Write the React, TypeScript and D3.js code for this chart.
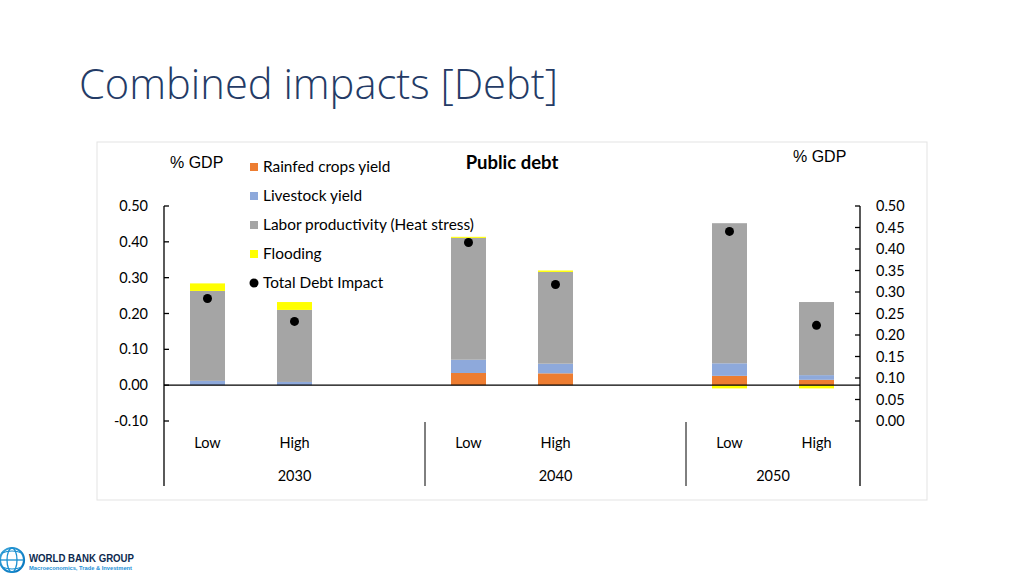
import React from "react";
import * as d3 from "d3";

const years = ["2030", "2040", "2050"];
const scenarios = ["Low", "High"];
const categories = ["2030 Low", "2030 High", "2040 Low", "2040 High", "2050 Low", "2050 High"];
const rainfed = [0, 0, 0.034, 0.033, 0.026, 0.015];
const livestock = [0.012, 0.009, 0.037, 0.027, 0.035, 0.013];
const labor = [0.251, 0.201, 0.34, 0.256, 0.391, 0.204];
const flooding = [0.021, 0.022, 0.003, 0.004, -0.009, -0.009];
const totalImpact = [0.242, 0.178, 0.398, 0.281, 0.429, 0.167];
const seriesNames = ["Rainfed crops yield", "Livestock yield", "Labor productivity (Heat stress)", "Flooding"];
const seriesColors = ["#ED7D31", "#8EA9DB", "#A5A5A5", "#FFFF00"];
const leftTicks = [0.5, 0.4, 0.3, 0.2, 0.1, 0, -0.1];
const rightTicks = [0.5, 0.45, 0.4, 0.35, 0.3, 0.25, 0.2, 0.15, 0.1, 0.05, 0];

const FONT = "Lato, 'Open Sans', sans-serif";

export default function App() {
  const W = 1024, H = 576;
  const plotL = 164, plotR = 860, plotT = 206, plotB = 421;
  const slots: string[] = [];
  years.forEach((y, yi) => {
    scenarios.forEach((s) => slots.push(`${y} ${s}`));
    if (yi < years.length - 1) slots.push(`${y} gap`);
  });
  const x = d3.scaleBand<string>().domain(slots).range([plotL, plotR]).padding(0);
  const y = d3.scaleLinear().domain([-0.1, 0.5]).range([plotB, plotT]);
  const yR = d3.scaleLinear().domain([0, 0.5]).range([plotB, plotT]);
  const barW = 35;

  const table = categories.map((c, i) => ({
    cat: c,
    s0: rainfed[i],
    s1: livestock[i],
    s2: labor[i],
    s3: flooding[i],
  }));
  const stack = d3.stack<any>().keys(["s0", "s1", "s2", "s3"]).offset(d3.stackOffsetDiverging);
  const layers = stack(table);

  const fmt2 = (v: number) => d3.format(".2f")(v).replace("\u2212", "-");

  const groupBounds = years.map((yr) => {
    const first = x(`${yr} ${scenarios[0]}`)!;
    const gapKey = `${yr} gap`;
    const end = slots.includes(gapKey) ? x(gapKey)! + x.bandwidth() : plotR;
    return { yr, start: first, end };
  });

  const legendRows = [167, 196, 225, 254, 283];

  return (
    <svg width={W} height={H} style={{ position: "absolute", left: 0, top: 0, background: "#fff" }}>
      <rect x={0} y={0} width={W} height={H} fill="#fff" />
      <text x={79} y={99} fontFamily="'Open Sans', sans-serif" fontWeight={300} fontSize={42} fill="#243b66"
        textLength={479} lengthAdjust="spacingAndGlyphs">Combined impacts [Debt]</text>

      <rect x={97} y={142} width={830} height={358} fill="#fff" stroke="#e3e3e3" strokeWidth={1} />

      {layers.map((layer, li) => (
        <g key={li}>
          {layer.map((d, i) => {
            const cx = x(categories[i])! + x.bandwidth() / 2;
            const y0 = y(d[0]), y1 = y(d[1]);
            return (
              <rect key={i} x={cx - barW / 2} y={Math.min(y0, y1)} width={barW}
                height={Math.abs(y0 - y1)} fill={seriesColors[li]} />
            );
          })}
        </g>
      ))}

      <line x1={plotL} x2={plotR} y1={y(0)} y2={y(0)} stroke="#000" strokeWidth={1.3} />

      {totalImpact.map((v, i) => (
        <circle key={i} cx={x(categories[i])! + x.bandwidth() / 2} cy={y(v)} r={4.5} fill="#000" />
      ))}

      <line x1={plotL} x2={plotL} y1={plotT} y2={486} stroke="#000" strokeWidth={1.3} />
      {leftTicks.map((t) => (
        <g key={t}>
          <line x1={plotL} x2={plotL + 5} y1={y(t)} y2={y(t)} stroke="#000" strokeWidth={1.3} />
          <text x={148} y={y(t) + 5} textAnchor="end" fontFamily={FONT} fontSize={14.5} fill="#000">{fmt2(t)}</text>
        </g>
      ))}

      <line x1={plotR} x2={plotR} y1={plotT} y2={486} stroke="#000" strokeWidth={1.3} />
      {rightTicks.map((t) => (
        <g key={t}>
          <line x1={plotR - 5} x2={plotR} y1={yR(t)} y2={yR(t)} stroke="#000" strokeWidth={1.3} />
          <text x={876} y={yR(t) + 5} textAnchor="start" fontFamily={FONT} fontSize={14.5} fill="#000">{fmt2(t)}</text>
        </g>
      ))}

      {groupBounds.slice(1).map((g) => (
        <line key={g.yr} x1={g.start} x2={g.start} y1={422} y2={486} stroke="#000" strokeWidth={1} />
      ))}

      {categories.map((c, i) => (
        <text key={c} x={x(c)! + x.bandwidth() / 2} y={448} textAnchor="middle" fontFamily={FONT} fontSize={14.5} fill="#000">
          {scenarios[i % 2]}
        </text>
      ))}
      {groupBounds.map((g) => (
        <text key={g.yr} x={(g.start + g.end) / 2} y={481} textAnchor="middle" fontFamily={FONT} fontSize={14.5} fill="#000">
          {g.yr}
        </text>
      ))}

      <text x={170} y={168} fontFamily="'Liberation Sans', Arial, sans-serif" fontSize={16} fill="#000">% GDP</text>
      <text x={793} y={162} fontFamily="'Liberation Sans', Arial, sans-serif" fontSize={16} fill="#000">% GDP</text>
      <text x={512} y={169} textAnchor="middle" fontFamily={FONT} fontWeight={700} fontSize={18.5} fill="#000">Public debt</text>

      {seriesNames.map((n, i) => (
        <g key={n}>
          <rect x={250} y={legendRows[i] - 4} width={8} height={8} fill={seriesColors[i]} />
          <text x={263} y={legendRows[i] + 5} fontFamily={FONT} fontSize={15.4} fill="#000">{n}</text>
        </g>
      ))}
      <circle cx={254} cy={legendRows[4]} r={4.5} fill="#000" />
      <text x={263} y={legendRows[4] + 5} fontFamily={FONT} fontSize={15.4} fill="#000">Total Debt Impact</text>

      <defs>
        <radialGradient id="globe" cx="40%" cy="40%" r="70%">
          <stop offset="0%" stopColor="#6fd0f2" />
          <stop offset="100%" stopColor="#0071bc" />
        </radialGradient>
      </defs>
      <g>
        <circle cx={12} cy={560} r={12} fill="none" stroke="url(#globe)" strokeWidth={2.2} />
        <ellipse cx={12} cy={560} rx={5} ry={12} fill="none" stroke="#1a8fd0" strokeWidth={1.3} />
        <line x1={0} x2={24} y1={560} y2={560} stroke="#1a8fd0" strokeWidth={1.3} />
        <path d="M2,553 Q12,549 22,553" fill="none" stroke="#1a8fd0" strokeWidth={1.2} />
        <path d="M2,567 Q12,571 22,567" fill="none" stroke="#1a8fd0" strokeWidth={1.2} />
        <text x={29} y={562} fontFamily="'Liberation Sans', Arial, sans-serif" fontWeight={700} fontSize={11}
          fill="#0d2a4f" textLength={105} lengthAdjust="spacingAndGlyphs">WORLD BANK GROUP</text>
        <text x={29} y={569.5} fontFamily="'Liberation Sans', Arial, sans-serif" fontWeight={700} fontSize={5.5}
          fill="#1b8fd6" textLength={103} lengthAdjust="spacingAndGlyphs">Macroeconomics, Trade &amp; Investment</text>
      </g>
    </svg>
  );
}
